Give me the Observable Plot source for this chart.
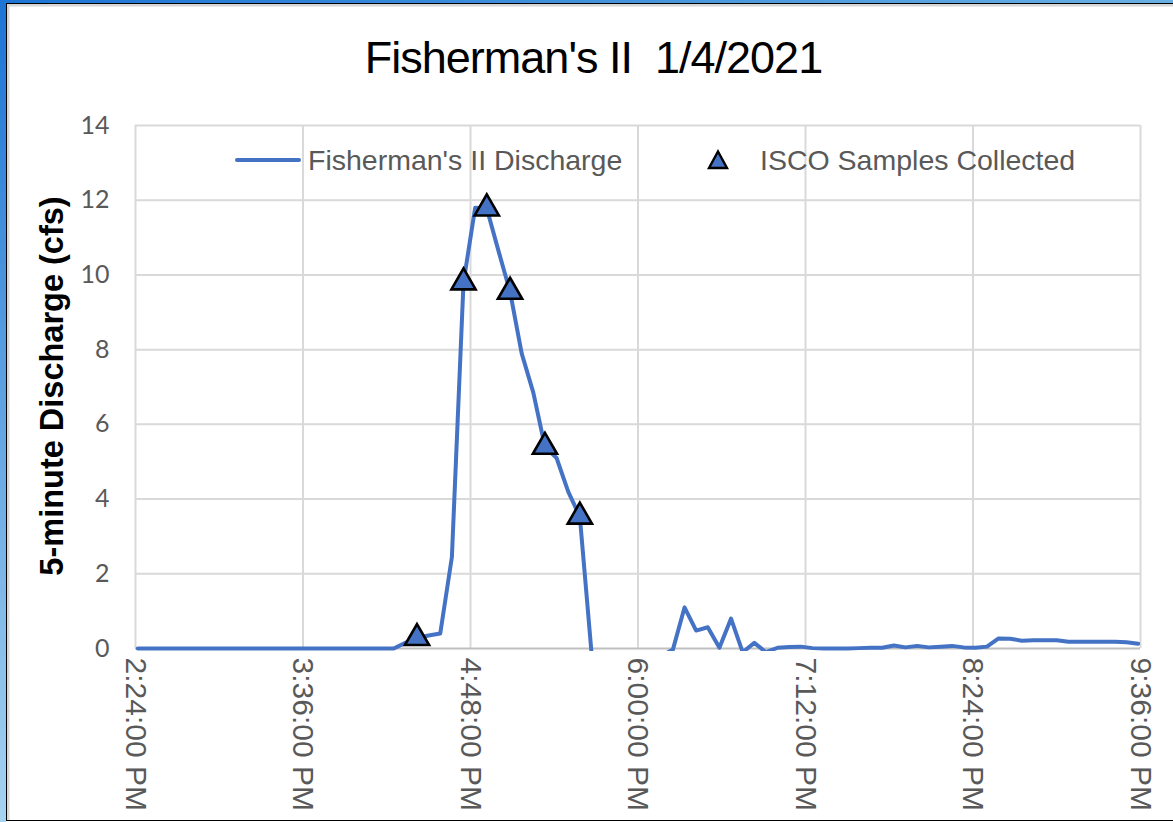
<!DOCTYPE html>
<html>
<head>
<meta charset="utf-8">
<script src="https://cdn.jsdelivr.net/npm/d3@7"></script>
<script src="https://cdn.jsdelivr.net/npm/@observablehq/plot@0.6"></script>
<style>
  html, body { margin: 0; padding: 0; background: #fff; }
  body { width: 1173px; height: 822px; overflow: hidden; position: relative; font-family: "Liberation Sans", Arial, sans-serif; }
  #chart { position: absolute; left: 0; top: 0; }
  #title { position: absolute; left: 0; width: 1187px; top: 35px; text-align: center; font-size: 45px; line-height: 45px; letter-spacing: -1px; color: #000; white-space: pre; }
  #ylabel { position: absolute; left: 52px; top: 386px; transform: translate(-50%, -50%) rotate(-90deg); white-space: nowrap; font-weight: bold; font-size: 32.5px; line-height: 32.5px; color: #000; }
  .legtext { position: absolute; top: 146px; font-size: 28.5px; line-height: 28.5px; color: #595959; white-space: nowrap; }
  #legline { position: absolute; left: 235px; top: 158px; width: 66px; height: 4px; background: #4472C4; border-radius: 2px; }
  #legtri { position: absolute; left: 706px; top: 149px; }
  #bL { position: absolute; left: 0; top: 0; width: 6px; height: 822px; background: linear-gradient(to bottom, #1c74d4, #a6d3f0); }
  #bT { position: absolute; left: 0; top: 0; width: 1173px; height: 3px; background: linear-gradient(to right, #1c74d4, #6ab0e4); }
  #bF { position: absolute; left: 6px; top: 3px; width: 1173px; height: 816px; border-left: 1.5px solid #000; border-top: 1.5px solid #000; border-bottom: 1.5px solid #000; box-shadow: inset 2.5px 2.5px 0 #d6d6d6; pointer-events: none; }
</style>
</head>
<body>
<div id="chart"></div>
<div id="title"></div>
<div id="ylabel"></div>
<div id="legline"></div>
<div class="legtext" id="leg1" style="left:308px"></div>
<svg id="legtri" width="24" height="22"><path d="M12,2.5 L21,19 L3,19 Z" fill="#4472C4" stroke="#000" stroke-width="2.4"/></svg>
<div class="legtext" id="leg2" style="left:760px"></div>
<div id="bL"></div><div id="bT"></div><div id="bF"></div>
<script>
const chartTitle = "Fisherman's II  1/4/2021";
const yLabel = "5-minute Discharge (cfs)";
const seriesNames = ["Fisherman's II Discharge", "ISCO Samples Collected"];

// 5-minute discharge readings, starting 2:25 PM on 1/4/2021
const startTime = "2021-01-04T14:25";
const discharge = [
  0, 0, 0, 0, 0, 0, 0, 0, 0, 0,          // 2:25 - 3:10
  0, 0, 0, 0, 0, 0, 0, 0, 0, 0,          // 3:15 - 4:00
  0, 0, 0, 0.15, 0.28, 0.35, 0.4, 2.45, 9.8, 11.8,   // 4:05 - 4:50
  11.78, 10.65, 9.55, 7.9, 6.85, 5.4, 5.1, 4.2, 3.53, -0.1, // 4:55 - 5:40
  -0.3, -0.35, -0.3, -0.25, -0.3, -0.2, -0.03, 1.1, 0.48, 0.57, // 5:45 - 6:30
  0.02, 0.8, -0.1, 0.15, -0.1, 0.02, 0.04, 0.05, 0.01, 0.0,   // 6:35 - 7:20
  0.0, 0.0, 0.01, 0.02, 0.02, 0.08, 0.03, 0.07, 0.03, 0.05,   // 7:25 - 8:10
  0.07, 0.03, 0.02, 0.05, 0.27, 0.26, 0.21, 0.22, 0.22, 0.22, // 8:15 - 9:00
  0.18, 0.18, 0.18, 0.18, 0.18, 0.17, 0.13                    // 9:05 - 9:35
];

const sampleTimes = ["16:25", "16:45", "16:55", "17:05", "17:20", "17:35"];
const sampleValues = [0.28, 9.8, 11.78, 9.55, 5.4, 3.53];

const xTicks = ["14:24", "15:36", "16:48", "18:00", "19:12", "20:24", "21:36"];
const yTicks = [0, 2, 4, 6, 8, 10, 12, 14];

const day = "2021-01-04T";
const parseT = s => new Date(day + s);
const t0 = new Date(startTime);
const series = discharge.map((v, i) => ({t: d3.timeMinute.offset(t0, 5 * i), v}));
const samples = sampleTimes.map((s, i) => ({t: parseT(s), v: sampleValues[i]}));
const xTickDates = xTicks.map(parseT);
const fmt = d3.timeFormat("%-I:%M:%S %p");

document.getElementById("title").textContent = chartTitle;
document.getElementById("ylabel").textContent = yLabel;
document.getElementById("leg1").textContent = seriesNames[0];
document.getElementById("leg2").textContent = seriesNames[1];

const plot = Plot.plot({
  width: 1173,
  height: 822,
  marginTop: 125,
  marginBottom: 174,
  marginLeft: 135,
  marginRight: 33,
  style: {fontFamily: "Lato, sans-serif", fontSize: "25px", color: "#595959", background: "transparent", overflow: "visible"},
  x: {type: "time", domain: [xTickDates[0], xTickDates[xTickDates.length - 1]], axis: null},
  y: {domain: [0, 14], ticks: yTicks, tickSize: 0, tickPadding: 26, label: null},
  marks: [
    Plot.ruleY(yTicks.slice(1), {stroke: "#d9d9d9", strokeWidth: 2}),
    Plot.ruleX(xTickDates, {stroke: "#d9d9d9", strokeWidth: 2}),
    Plot.ruleY([0], {stroke: "#bfbfbf", strokeWidth: 2}),
    Plot.line(series, {x: "t", y: "v", stroke: "#4472C4", strokeWidth: 4, strokeLinejoin: "round", clip: true}),
    Plot.dot(samples, {x: "t", y: "v", symbol: "triangle", r: 9, fill: "#4472C4", stroke: "#000", strokeWidth: 2.6}),
    Plot.text(xTickDates, {x: d => d, text: d => fmt(d), frameAnchor: "bottom", rotate: 90, textAnchor: "start", lineAnchor: "middle", dy: 9, fill: "#595959", fontSize: 30, fontFamily: "Liberation Sans, Arial, sans-serif"})
  ]
});

// let the clipped line keep its full stroke width along the zero baseline
plot.querySelectorAll("clipPath rect").forEach(r => {
  const h = +r.getAttribute("height");
  if (!isNaN(h)) r.setAttribute("height", h + 3);
});

document.getElementById("chart").appendChild(plot);
</script>
</body>
</html>
